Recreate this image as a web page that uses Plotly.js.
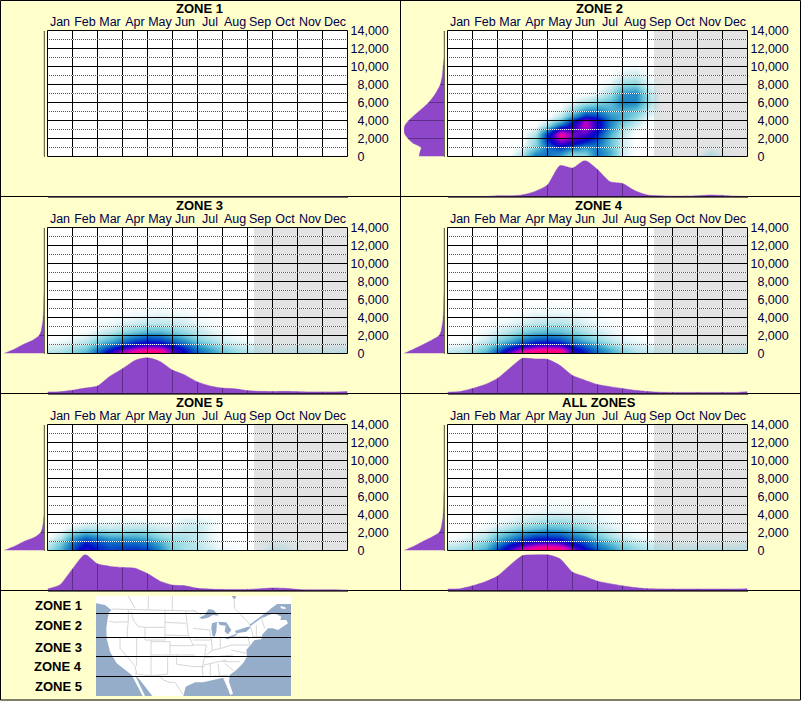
<!DOCTYPE html>
<html>
<head>
<meta charset="utf-8">
<script src="https://cdn.plot.ly/plotly-3.0.1.min.js"></script>
<style>body{margin:0;background:#ffffcc}</style>
</head>
<body>
<div id="chart" style="width:801px;height:701px"></div>
<script>
var months = ["Jan","Feb","Mar","Apr","May","Jun","Jul","Aug","Sep","Oct","Nov","Dec"];
var monthCenters = [0.5,1.5,2.5,3.5,4.5,5.5,6.5,7.5,8.5,9.5,10.5,11.5];
var yTicks = [0,2000,4000,6000,8000,10000,12000,14000];
var yTickLabels = ["0","2,000","4,000","6,000","8,000","10,000","12,000","14,000"];
var zoneNames = ["ZONE 1","ZONE 2","ZONE 3","ZONE 4","ZONE 5","ALL ZONES"];
var mapLabels = ["ZONE 1","ZONE 2","ZONE 3","ZONE 4","ZONE 5"];

// half month columns, elevation rows (finer near the ground)
var xGrid = [0,.5,1,1.5,2,2.5,3,3.5,4,4.5,5,5.5,6,6.5,7,7.5,8,8.5,9,9.5,10,10.5,11,11.5,12];
var yGrid = [0,500,1000,1500,2000,2500,3000,3500,4000,4500,5000,6000,7000,8000,9000,10000,11000,14000];

// density, one row per yGrid entry, missing cells are 0
var zone1Heat = [];
var zone2Heat = [
 [0,0,0,0,0,3,14,38,40,28,12,14,38,24,5,0,0,0,0,0,3,10,4],
 [0,0,0,0,0,0,8,30,38,35,20,20,38,26,6,0,0,0,0,0,0,6,2],
 [0,0,0,0,0,0,4,18,38,48,38,30,36,22,6,0,0,0,0,0,0,2],
 [0,0,0,0,0,0,0,15,45,68,58,46,40,22,6],
 [0,0,0,0,0,0,0,14,52,84,72,60,46,22,6],
 [0,0,0,0,0,0,0,11,50,92,74,68,50,25,8],
 [0,0,0,0,0,0,0,5,32,68,66,78,58,30,12,2],
 [0,0,0,0,0,0,0,0,13,42,60,84,62,34,16,6],
 [0,0,0,0,0,0,0,0,4,20,50,80,60,36,22,10,1],
 [0,0,0,0,0,0,0,0,0,9,30,52,48,32,26,16,4],
 [0,0,0,0,0,0,0,0,0,3,16,34,36,26,24,20,8],
 [0,0,0,0,0,0,0,0,0,0,4,10,16,22,36,34,14],
 [0,0,0,0,0,0,0,0,0,0,0,0,3,12,30,34,12],
 [0,0,0,0,0,0,0,0,0,0,0,0,0,4,14,16,5],
 [0,0,0,0,0,0,0,0,0,0,0,0,0,0,5,7,2],
 [0,0,0,0,0,0,0,0,0,0,0,0,0,0,1,2]
];
var zone3Heat = [
 [11,13,18,26,42,66,86,96,100,98,72,56,42,32,22,15,11,8,7,7,8,7,6,7,8],
 [7,9,14,20,36,54,72,84,90,88,68,52,38,28,18,12,9,6,5,5,6,5,5,5,6],
 [3,5,8,12,24,36,48,58,64,62,52,40,28,18,11,7,5,3,3,2,3,2,2,3,3],
 [0,2,4,8,16,25,36,46,50,48,40,30,18,12,6,4,2,1,1,0,1,1,1,1,1],
 [0,0,2,4,9,16,25,32,38,36,28,20,12,7,4,2,1],
 [0,0,0,1,4,8,13,19,23,23,18,13,8,4,2,1],
 [0,0,0,0,2,3,7,11,14,14,11,8,5,2,1],
 [0,0,0,0,1,2,4,6,8,8,7,5,3,1],
 [0,0,0,0,0,1,2,3,5,5,4,4,2,1],
 [0,0,0,0,0,0,1,2,2,3,3,2,1,1],
 [0,0,0,0,0,0,0,1,1,2,1,1,1]
];
var zone4Heat = [
 [10,12,16,26,46,78,96,100,100,100,62,52,40,28,18,12,9,7,6,6,6,6,6,7,8],
 [6,8,12,20,38,62,82,90,92,90,62,48,36,25,15,9,7,5,5,5,5,5,4,5,6],
 [2,3,6,12,24,38,52,60,64,60,46,36,26,14,8,5,4,2,2,2,2,2,2,2,3],
 [0,1,2,7,16,26,38,46,48,44,34,24,15,9,4,3,1,1,1],
 [0,0,1,4,10,17,26,32,35,32,25,16,10,5,3,1],
 [0,0,0,2,5,10,16,21,23,21,16,10,6,3,1],
 [0,0,0,1,3,6,10,13,15,15,11,7,3,2],
 [0,0,0,0,1,3,5,8,9,9,7,4,2,1],
 [0,0,0,0,0,2,3,5,6,6,5,3,1],
 [0,0,0,0,0,0,2,3,3,3,3,2,1],
 [0,0,0,0,0,0,0,1,2,2,2,1]
];
var zone5Heat = [
 [12,25,45,68,52,46,48,50,48,34,18,12,10,6,3,1,0,2,7,5,1],
 [8,22,42,58,50,44,46,46,42,30,16,11,9,5,2,1,0,1,5,4,1],
 [5,16,36,50,44,38,38,38,34,24,14,11,8,4,1,0,0,1,3,2],
 [1,8,28,40,34,28,28,28,24,16,12,11,8,4,1],
 [0,4,16,24,20,16,16,18,16,10,8,9,7,3],
 [0,0,6,10,9,8,9,10,9,6,5,8,7,3],
 [0,0,1,4,4,4,5,6,5,3,3,6,7,3],
 [0,0,0,0,1,1,2,2,1,0,1,4,4,2]
];
var allHeat = [
 [12,14,18,28,48,70,88,98,100,100,82,60,44,32,22,14,10,8,7,7,7,7,7,7,8],
 [8,10,14,22,40,60,76,86,90,86,68,50,38,28,18,12,8,6,5,5,5,5,5,5,6],
 [3,5,9,16,30,44,54,60,64,60,50,42,30,20,12,7,5,3,3,2,2,2,2,2,3],
 [0,2,5,10,22,32,42,50,50,48,40,32,20,12,7,4,2,1,1,1,1,1,1,1,1],
 [0,1,3,6,14,22,30,35,38,36,29,23,14,8,4,2,1],
 [0,0,1,3,7,12,17,21,25,23,20,15,8,5,2,1],
 [0,0,0,1,3,6,10,13,16,16,13,10,6,3,2],
 [0,0,0,0,2,3,6,9,10,11,9,7,4,2,1],
 [0,0,0,0,1,2,3,5,6,6,5,5,2,2],
 [0,0,0,0,0,0,2,2,3,3,3,3,2,1],
 [0,0,0,0,0,0,0,1,2,2,2,2,1,1]
];

// marginal under each panel, one value per xGrid entry
var zone1Month = [0,0,0,0,0,0,0,0,0,0,0,0,0,0,0,0,0,0,0,0,0,0,0,0,0];
var zone2Month = [0,0,0,0,2,2,4.5,14,32,86,79,100,75,41,36,16,4,2,1,1,2,4,3,1,0];
var zone3Month = [4,5,9,15,21,48,69,92,100,89,65,51,32,21,15,13,8,6,5.5,6,5,4.5,4.5,4.5,5.5];
var zone4Month = [3.5,5.5,14,25,42,71,98,96,95,78,50,37,25,19,14,9,5.5,3.5,3,3,3,3,3,3,5];
var zone5Month = [4,16,60,100,74,67,64,62,47,26,15,13,6,4,3,3,3,5,7,6,3,2,2,2,1];
var allMonth = [4,5,13,24,40,70,97,100,100,88,51,39,26,19,13,8,5,4.5,4,4,4,4,4,4,5];

// marginal left of each panel, one value per yGrid entry
var zone1Side = [0,0,0,0,0,0,0,0,0,0,0,0,0,0,0,0,0,0];
var zone2Side = [62,60,57,78,90,98,100,97,88,76,63,38,21,9,4,2,0,0];
var zone3Side = [100,73,52,27,12,7,5,3,2,1.5,1,.5,0,0,0,0,0,0];
var zone4Side = [100,75,52,30,12,7,5,3,2,1.5,1,.5,0,0,0,0,0,0];
var zone5Side = [100,72,50,22,8,4,2,1,0,0,0,0,0,0,0,0,0,0];
var allSide = [100,74,53,30,12,7,5,3,2,1.5,1,.5,0,0,0,0,0,0];

var heats = [zone1Heat,zone2Heat,zone3Heat,zone4Heat,zone5Heat,allHeat];
var tops = [zone1Month,zone2Month,zone3Month,zone4Month,zone5Month,allMonth];
var sides = [zone1Side,zone2Side,zone3Side,zone4Side,zone5Side,allSide];

// base map, traced by eye in crop pixels (3x, crops start at 95,595 and 193,595)
var landWest = [[3,3],[3,25],[30,30],[50,46],[42,52],[38,70],[34,100],[35,130],[45,170],[65,205],[95,228],[110,240],[143,303],[150,303],[120,240],[135,255],[172,303],[265,303],[272,275],[300,262]];
var landEast = [[0,262],[30,262],[60,255],[90,248],[100,270],[112,300],[120,296],[108,260],[110,240],[130,225],[150,205],[162,185],[160,165],[172,150],[185,135],[205,133],[207,120],[225,100],[240,100],[255,105],[285,85],[280,75],[262,75],[265,65],[245,55],[228,60],[207,70],[212,62],[235,40],[252,27],[298,27],[298,3]];
var lakeSuperior = [[18,68],[35,60],[47,42],[62,45],[77,62],[60,60],[45,68],[28,72]];
var lakeMichigan = [[57,85],[72,80],[70,110],[65,125],[58,122],[55,100]];
var lakeHuron = [[75,80],[100,82],[115,105],[105,118],[95,110],[98,92],[80,90]];
var lakeErie = [[95,130],[125,118],[135,114],[130,120],[105,133]];
var lakeOntario = [[125,108],[165,95],[175,95],[160,110],[130,115]];
var hudsonBay = [[115,0],[130,0],[127,12],[120,10]];
var newfoundland = [[262,33],[277,37],[278,43],[264,40]];
var stLawrence = [[170,92],[215,60],[240,40]];
var statesWest = [
 [[50,42],[215,45],[300,48]],[[100,3],[120,40]],[[160,3],[160,42]],[[232,3],[232,45]],
 [[42,78],[60,82],[100,80]],[[100,45],[100,80],[97,105],[97,127]],[[108,50],[115,75],[130,95],[150,97]],
 [[75,127],[75,160],[120,213],[125,235]],[[125,127],[125,213]],[[125,127],[150,127]],
 [[150,97],[150,135],[210,135],[210,97],[150,97]],[[168,135],[168,242]],[[168,140],[225,140],[225,180],[168,180]],
 [[120,235],[145,240],[168,242],[218,238],[218,180]],[[210,45],[210,97]],[[210,82],[272,85]],[[210,120],[280,122]],
 [[272,48],[280,120],[295,152]],[[225,152],[295,152]],[[225,180],[300,180]],[[245,180],[245,208],[300,215]],
 [[190,240],[205,255],[225,262],[240,262],[265,300]]
];
var statesEast = [
 [[0,45],[25,60]],[[0,100],[50,105],[55,135],[0,135]],[[0,150],[40,150],[35,185],[0,185]],[[0,215],[35,215]],
 [[35,185],[28,215],[30,245]],[[55,130],[58,165]],[[82,125],[82,160]],[[40,180],[60,165],[85,160],[115,150]],
 [[35,188],[120,180]],[[32,210],[100,195]],[[75,207],[80,245]],[[52,205],[52,245]],[[50,245],[105,240]],
 [[90,200],[140,200]],[[95,205],[125,230]],[[115,165],[160,175]],[[115,125],[165,125],[170,150],[115,150]],
 [[175,100],[180,125],[205,125]],[[190,90],[190,125]],[[205,70],[215,100]],[[123,5],[125,40],[175,92]]
];
var mapZoneLines = [613.5,637.5,656.5,676.5];

var W = 801, H = 701;
function px(x){ return x/W; }
function py(y){ return 1-y/H; }
function axName(kind,n){ return kind+"axis"+(n==1?"":n); }
function axRef(kind,n){ return kind+(n==1?"":n); }
function fromWest(p){ return [95+p[0]/3,595+p[1]/3]; }
function fromEast(p){ return [193+p[0]/3,595+p[1]/3]; }

function fillGrid(rows){
	return yGrid.map(function(_,i){
		var r = rows[i] || [];
		return xGrid.map(function(_,j){ return r[j] || 0; });
	});
}

var heatScale = [
	[0,"rgba(170,225,230,0)"],
	[.05,"rgba(130,205,215,.32)"],
	[.15,"rgba(110,205,218,.8)"],
	[.3,"#2f9bc8"],
	[.42,"#0a60c4"],
	[.55,"#0008c8"],
	[.68,"#4000c8"],
	[.78,"#a000d0"],
	[.88,"#f000a0"],
	[.94,"#ff0080"],
	[1,"#ff0060"]
];

var tickFont = {family:"Liberation Sans, Arial, sans-serif",size:12.5,color:"#000048"};
var titleFont = {family:"Liberation Sans, Arial, sans-serif",size:13,color:"#000"};
var purple = "#8e47c9", gridPurple = "#5c2e88", edge = "#6e6e58";

var traces = [], shapes = [], annotations = [];
var layout = {
	width:W,height:H,margin:{l:0,r:0,t:0,b:0,pad:0},autosize:false,showlegend:false,
	paper_bgcolor:"#ffffcc",plot_bgcolor:"#ffffcc",
	shapes:shapes,annotations:annotations
};

function addPanel(i){
	var ox = i%2 ? 400 : 0, oy = Math.floor(i/2)*197;
	var left = 47.5+ox, right = 347.5+ox, top = 30.5+oy, bottom = 156.5+oy;
	var a = 3*i+1, b = 3*i+2, c = 3*i+3;
	var xr = axRef("x",a), yr = axRef("y",a);

	// heat panel
	layout[axName("x",a)] = {
		domain:[px(left),px(right)],range:[0,12],anchor:yr,side:"top",showgrid:false,zeroline:false,
		tickmode:"array",tickvals:monthCenters,ticktext:months,ticks:"",tickfont:tickFont,ticklabelstandoff:1
	};
	layout[axName("y",a)] = {
		domain:[py(bottom),py(top)],range:[0,14000],anchor:xr,side:"right",showgrid:false,zeroline:false,
		tickmode:"array",tickvals:yTicks,
		ticktext:yTickLabels.map(function(t){ return t.length<6 ? "\u00a0\u00a0"+t : t; }),
		ticks:"",tickfont:tickFont,ticklabelstandoff:2
	};
	traces.push({
		type:"heatmap",x:xGrid,y:yGrid,z:fillGrid(heats[i]),xaxis:xr,yaxis:yr,
		zmin:0,zmax:100,zsmooth:"best",colorscale:heatScale,showscale:false,hoverinfo:"skip"
	});

	shapes.push({type:"rect",layer:"below",xref:xr,yref:yr,x0:0,x1:12,y0:0,y1:14000,fillcolor:"#fff",line:{width:0}});
	if(i>0) shapes.push({type:"rect",layer:"below",xref:xr,yref:yr,x0:8.26,x1:12,y0:0,y1:14000,fillcolor:"#e3e3e3",line:{width:0}});

	for(var m=1;m<12;m++){
		shapes.push({type:"line",xref:xr,yref:yr,x0:m,x1:m,y0:0,y1:14000,line:{color:"#000",width:1}});
	}
	for(var e=1000;e<14000;e+=1000){
		if(e%2000==0){
			shapes.push({type:"line",xref:xr,yref:yr,x0:0,x1:12,y0:e,y1:e,line:{color:"#000",width:1}});
		} else {
			// dots start on a whole pixel, otherwise they smear into a grey line
			shapes.push({type:"line",xref:xr,yref:yr,x0:0.02,x1:12,y0:e,y1:e,line:{color:"#fff",width:1,dash:"1px,1px"}});
			shapes.push({type:"line",xref:xr,yref:yr,x0:0.06,x1:12,y0:e,y1:e,line:{color:"#555",width:1,dash:"1px,1px"}});
		}
	}
	shapes.push({type:"rect",xref:"paper",yref:"paper",x0:px(left),x1:px(right),y0:py(bottom),y1:py(top),line:{color:"#000",width:1}});

	// left marginal
	var sx = axRef("x",b), sy = axRef("y",b);
	layout[axName("x",b)] = {domain:[px(4+ox),px(44+ox)],range:[100,0],anchor:sy,visible:false};
	layout[axName("y",b)] = {
		domain:[py(bottom),py(top)],range:[0,14000],anchor:sx,side:"right",showgrid:false,zeroline:false,
		showticklabels:false,ticks:"",showline:true,linecolor:edge,linewidth:1
	};
	traces.push({type:"scatter",mode:"lines",x:sides[i],y:yGrid,xaxis:sx,yaxis:sy,fill:"tozerox",fillcolor:purple,
		line:{color:purple,width:.5,shape:"spline",smoothing:.6},hoverinfo:"skip"});
	var gx = [], gy = [];
	yTicks.forEach(function(t){
		var k = yGrid.indexOf(t);
		if(k>0 && sides[i][k]>0){ gx.push(0,sides[i][k],null); gy.push(t,t,null); }
	});
	traces.push({type:"scatter",mode:"lines",x:gx,y:gy,xaxis:sx,yaxis:sy,line:{color:gridPurple,width:1},hoverinfo:"skip"});

	// bottom marginal
	var bx = axRef("x",c), by = axRef("y",c);
	layout[axName("x",c)] = {
		domain:[px(left),px(right)],range:[0,12],anchor:by,side:"bottom",showgrid:false,zeroline:false,
		showticklabels:false,ticks:"",showline:true,linecolor:edge,linewidth:1
	};
	layout[axName("y",c)] = {domain:[py(196.5+oy),py(160.5+oy)],range:[0,100],anchor:bx,visible:false};
	traces.push({type:"scatter",mode:"lines",x:xGrid,y:tops[i],xaxis:bx,yaxis:by,fill:"tozeroy",fillcolor:purple,
		line:{color:purple,width:.5,shape:"spline",smoothing:.6},hoverinfo:"skip"});
	var tx = [], ty = [];
	for(var q=1;q<12;q++){
		var v = tops[i][xGrid.indexOf(q)];
		if(v>0){ tx.push(q,q,null); ty.push(0,v,null); }
	}
	traces.push({type:"scatter",mode:"lines",x:tx,y:ty,xaxis:bx,yaxis:by,line:{color:gridPurple,width:1},hoverinfo:"skip"});

	annotations.push({xref:"paper",yref:"paper",x:px(199+ox),y:py(8.5+oy),text:"<b>"+zoneNames[i]+"</b>",showarrow:false,
		xanchor:"center",yanchor:"middle",font:titleFont});
}

for(var i=0;i<6;i++) addPanel(i);

// panel borders sit under the marginals
[[.5,.5,800.5,.5],[.5,196.5,800.5,196.5],[.5,393.5,800.5,393.5],[.5,590.5,800.5,590.5],[.5,700,800.5,700],
 [.5,.5,.5,700],[800.5,.5,800.5,700],[400.5,.5,400.5,590.5]].forEach(function(s){
	shapes.push({type:"line",layer:"below",xref:"paper",yref:"paper",x0:px(s[0]),y0:py(s[1]),x1:px(s[2]),y1:py(s[3]),line:{color:"#000",width:1}});
});

// base map inset
var mx = "x19", my = "y19";
layout.xaxis19 = {domain:[px(96),px(291)],range:[96,291],anchor:my,visible:false};
layout.yaxis19 = {domain:[py(696),py(596)],range:[696,596],anchor:mx,visible:false};
shapes.push({type:"rect",layer:"below",xref:mx,yref:my,x0:96,x1:291,y0:596,y1:696,fillcolor:"#96adc9",line:{width:0}});

function mapPoly(points,color){
	traces.push({type:"scatter",mode:"lines",x:points.map(function(p){return p[0];}),y:points.map(function(p){return p[1];}),
		xaxis:mx,yaxis:my,fill:"toself",fillcolor:color,line:{width:0,color:color},hoverinfo:"skip"});
}
function mapLine(points,color,width){
	traces.push({type:"scatter",mode:"lines",x:points.map(function(p){return p[0];}),y:points.map(function(p){return p[1];}),
		xaxis:mx,yaxis:my,line:{width:width,color:color},hoverinfo:"skip"});
}
mapPoly(landWest.map(fromWest).concat(landEast.map(fromEast)),"#ffffff");
mapPoly(newfoundland.map(fromEast),"#ffffff");
statesWest.forEach(function(l){ mapLine(l.map(fromWest),"#d6d6d6",1); });
statesEast.forEach(function(l){ mapLine(l.map(fromEast),"#d6d6d6",1); });
[lakeSuperior,lakeMichigan,lakeHuron,lakeErie,lakeOntario,hudsonBay].forEach(function(l){ mapPoly(l.map(fromEast),"#96adc9"); });
mapLine(stLawrence.map(fromEast),"#96adc9",1.5);
mapZoneLines.forEach(function(y){
	shapes.push({type:"line",xref:mx,yref:my,x0:96,x1:291,y0:y,y1:y,line:{color:"#000",width:1}});
});

var mapLabelY = [605,625,647,666.5,686.5];
mapLabels.forEach(function(t,k){
	annotations.push({xref:"paper",yref:"paper",x:px(83.5),y:py(mapLabelY[k]),text:"<b>"+t+"</b>",showarrow:false,
		xanchor:"right",yanchor:"middle",font:titleFont});
});

Plotly.newPlot("chart",traces,layout,{staticPlot:true,displayModeBar:false});
</script>
</body>
</html>
